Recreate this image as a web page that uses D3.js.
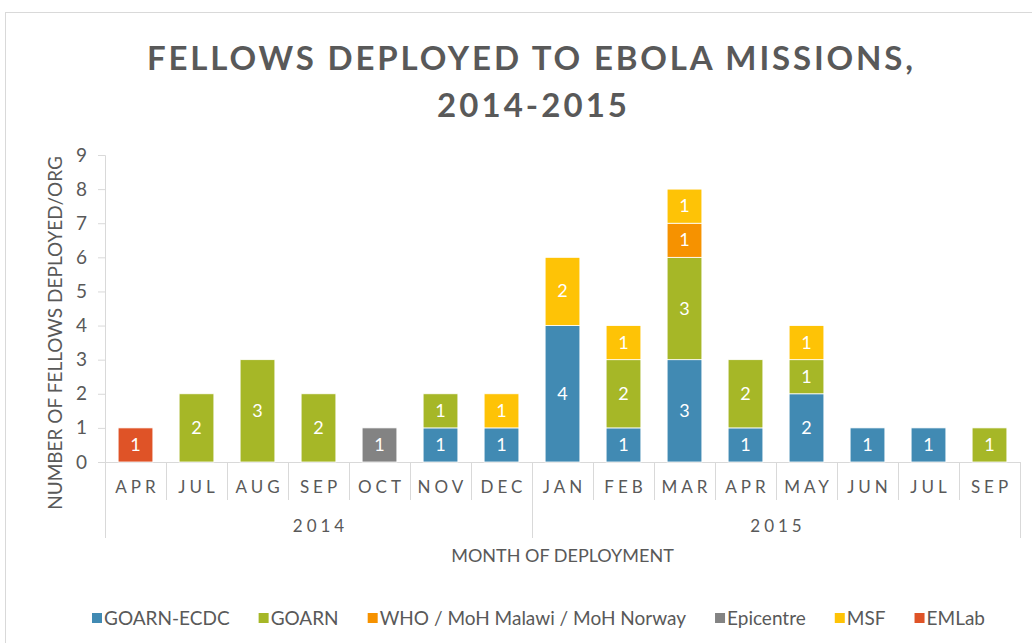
<!DOCTYPE html>
<html>
<head>
<meta charset="utf-8">
<script src="https://cdn.jsdelivr.net/npm/d3@7"></script>
<style>
  body { margin: 0; background: #fff; }
  text { font-family: Lato, "Open Sans", sans-serif; fill: #595959; }
</style>
</head>
<body>
<div id="chart"></div>
<script>
var svgWidth = 1032;
var svgHeight = 643;

// data
var years = ["2014", "2015"];
var months = ["APR", "JUL", "AUG", "SEP", "OCT", "NOV", "DEC",
              "JAN", "FEB", "MAR", "APR", "MAY", "JUN", "JUL", "SEP"];
var monthYear = ["2014", "2014", "2014", "2014", "2014", "2014", "2014",
                 "2015", "2015", "2015", "2015", "2015", "2015", "2015", "2015"];
var orgs = ["GOARN-ECDC", "GOARN", "WHO / MoH Malawi / MoH Norway", "Epicentre", "MSF", "EMLab"];
var goarnEcdc = [0, 0, 0, 0, 0, 1, 1, 4, 1, 3, 1, 2, 1, 1, 0];
var goarn     = [0, 2, 3, 2, 0, 1, 0, 0, 2, 3, 2, 1, 0, 0, 1];
var whoMoh    = [0, 0, 0, 0, 0, 0, 0, 0, 0, 1, 0, 0, 0, 0, 0];
var epicentre = [0, 0, 0, 0, 1, 0, 0, 0, 0, 0, 0, 0, 0, 0, 0];
var msf       = [0, 0, 0, 0, 0, 0, 1, 2, 1, 1, 0, 1, 0, 0, 0];
var emlab     = [1, 0, 0, 0, 0, 0, 0, 0, 0, 0, 0, 0, 0, 0, 0];
var yTicks = [0, 1, 2, 3, 4, 5, 6, 7, 8, 9];

var colors = ["#418AB3", "#A6B727", "#F69200", "#838383", "#FEC306", "#DF5327"];

var plot = { left: 105, right: 1020, top: 155, bottom: 462 };

var svg = d3.select("#chart")
  .append("svg")
  .attr("width", svgWidth)
  .attr("height", svgHeight);

// outer chart border
svg.append("rect")
  .attr("x", 5.5).attr("y", 12.5)
  .attr("width", 1100).attr("height", 700)
  .attr("fill", "none")
  .attr("stroke", "#d9d9d9");

// title
svg.append("text")
  .attr("x", 530).attr("y", 70)
  .attr("text-anchor", "middle")
  .attr("font-size", 33).attr("font-weight", "bold")
  .attr("textLength", 766).attr("lengthAdjust", "spacing")
  .text("FELLOWS DEPLOYED TO EBOLA MISSIONS,");
svg.append("text")
  .attr("x", 532).attr("y", 117)
  .attr("text-anchor", "middle")
  .attr("font-size", 33).attr("font-weight", "bold")
  .attr("textLength", 190).attr("lengthAdjust", "spacing")
  .text("2014-2015");

// table for stacking
var keys = months.map((m, i) => i);
var table = keys.map(function(i) {
  return { idx: i, 0: goarnEcdc[i], 1: goarn[i], 2: whoMoh[i], 3: epicentre[i], 4: msf[i], 5: emlab[i] };
});
var stacked = d3.stack().keys([0, 1, 2, 3, 4, 5])(table);

var x = d3.scaleBand()
  .domain(keys)
  .range([plot.left, plot.right])
  .paddingInner(0.43)
  .paddingOuter(0.215);

var y = d3.scaleLinear()
  .domain([0, 9])
  .range([plot.bottom, plot.top]);

// y axis
var yAxis = svg.append("g")
  .attr("transform", `translate(${plot.left}, 0)`)
  .call(d3.axisLeft(y).tickValues(yTicks).tickSize(7).tickPadding(11));
yAxis.select(".domain").attr("stroke", "#d9d9d9");
yAxis.selectAll(".tick line").attr("stroke", "#d9d9d9");
yAxis.selectAll(".tick text")
  .attr("font-size", 19)
  .attr("fill", "#595959")
  .style("font-family", "Lato, sans-serif");

// x axis line
svg.append("line")
  .attr("x1", plot.left).attr("x2", plot.right)
  .attr("y1", plot.bottom + 0.5).attr("y2", plot.bottom + 0.5)
  .attr("stroke", "#d9d9d9");

// bars
var layers = svg.append("g").selectAll("g")
  .data(stacked)
  .enter()
  .append("g")
  .attr("fill", (d, i) => colors[i]);

layers.selectAll("rect")
  .data(d => d.filter(s => s[1] > s[0]))
  .enter()
  .append("rect")
  .attr("x", d => x(d.data.idx))
  .attr("y", d => y(d[1]))
  .attr("width", x.bandwidth())
  .attr("height", d => y(d[0]) - y(d[1]))
  .attr("stroke", "#fff")
  .attr("stroke-width", 0.8);

layers.selectAll("text")
  .data(d => d.filter(s => s[1] > s[0]))
  .enter()
  .append("text")
  .attr("x", d => x(d.data.idx) + x.bandwidth() / 2)
  .attr("y", d => (y(d[0]) + y(d[1])) / 2 + 6)
  .attr("text-anchor", "middle")
  .attr("font-size", 18)
  .style("fill", "#fff")
  .text(d => d[1] - d[0]);

// category separators
var step = x.step();
var bounds = keys.map(i => x(i) - step * x.paddingInner() / 2);
bounds.push(plot.right);
svg.append("g").selectAll("line")
  .data(bounds)
  .enter()
  .append("line")
  .attr("x1", d => Math.round(d) + 0.5)
  .attr("x2", d => Math.round(d) + 0.5)
  .attr("y1", plot.bottom)
  .attr("y2", (d, i) => (i === 0 || i === 7 || i === 15) ? 538 : 500)
  .attr("stroke", "#d9d9d9");

// month labels
svg.append("g").selectAll("text")
  .data(months)
  .enter()
  .append("text")
  .attr("x", (d, i) => x(i) + x.bandwidth() / 2 + 2)
  .attr("y", 493)
  .attr("text-anchor", "middle")
  .attr("font-size", 17)
  .attr("letter-spacing", 4)
  .text(d => d);

// year labels
years.forEach(function(yr) {
  var idx = monthYear.map((m, i) => m === yr ? i : -1).filter(i => i >= 0);
  var x0 = bounds[idx[0]];
  var x1 = bounds[idx[idx.length - 1] + 1];
  svg.append("text")
    .attr("x", (x0 + x1) / 2 + 2)
    .attr("y", 532)
    .attr("text-anchor", "middle")
    .attr("font-size", 17)
    .attr("letter-spacing", 4)
    .text(yr);
});

// axis titles
svg.append("text")
  .attr("x", (plot.left + plot.right) / 2)
  .attr("y", 562)
  .attr("text-anchor", "middle")
  .attr("font-size", 18)
  .text("MONTH OF DEPLOYMENT");

svg.append("text")
  .attr("transform", `translate(62, 333) rotate(-90)`)
  .attr("text-anchor", "middle")
  .attr("font-size", 19)
  .text("NUMBER OF FELLOWS DEPLOYED/ORG");

// legend: spread items over the same span as the original
var legendLeft = 92, legendRight = 985;
var legend = svg.append("g");
var items = orgs.map(function(o, i) {
  var g = legend.append("g");
  g.append("rect")
    .attr("x", 0).attr("y", 613)
    .attr("width", 10).attr("height", 10)
    .attr("fill", colors[i]);
  var t = g.append("text")
    .attr("x", 12).attr("y", 625)
    .attr("font-size", 19)
    .text(o);
  return { g: g, w: 12 + t.node().getComputedTextLength() };
});
var gap = (legendRight - legendLeft - d3.sum(items, d => d.w)) / (items.length - 1);
var lx = legendLeft;
items.forEach(function(it) {
  it.g.attr("transform", `translate(${lx}, 0)`);
  lx += it.w + gap;
});
</script>
</body>
</html>
